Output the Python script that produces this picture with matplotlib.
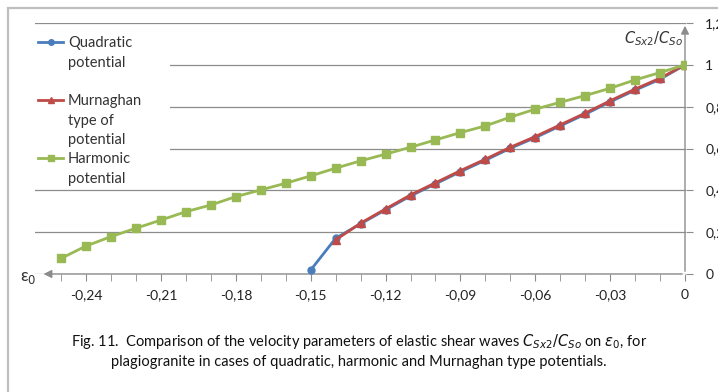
import matplotlib
matplotlib.use("Agg")
import matplotlib.pyplot as plt
from matplotlib.patches import Rectangle
from matplotlib.lines import Line2D

# --- data ---
eps_harm = [-0.25, -0.24, -0.23, -0.22, -0.21, -0.20, -0.19, -0.18, -0.17, -0.16,
            -0.15, -0.14, -0.13, -0.12, -0.11, -0.10, -0.09, -0.08, -0.07, -0.06,
            -0.05, -0.04, -0.03, -0.02, -0.01, 0.0]
harm = [0.075, 0.134, 0.179, 0.219, 0.258, 0.298, 0.330, 0.370, 0.402, 0.434,
        0.469, 0.506, 0.541, 0.573, 0.606, 0.641, 0.676, 0.708, 0.750, 0.788,
        0.821, 0.853, 0.888, 0.928, 0.963, 1.0]

eps_quad = [-0.15, -0.14, -0.13, -0.12, -0.11, -0.10, -0.09, -0.08, -0.07, -0.06,
            -0.05, -0.04, -0.03, -0.02, -0.01, 0.0]
quad = [0.019, 0.171, 0.240, 0.307, 0.373, 0.431, 0.489, 0.544, 0.601, 0.652,
        0.708, 0.764, 0.823, 0.879, 0.931, 1.0]

eps_murn = [-0.14, -0.13, -0.12, -0.11, -0.10, -0.09, -0.08, -0.07, -0.06,
            -0.05, -0.04, -0.03, -0.02, -0.01, 0.0]
murn = [0.163, 0.243, 0.311, 0.378, 0.436, 0.494, 0.549, 0.606, 0.657,
        0.713, 0.769, 0.828, 0.884, 0.936, 1.0]

xticks = [-0.24, -0.21, -0.18, -0.15, -0.12, -0.09, -0.06, -0.03, 0.0]
xticklabels = ["-0,24", "-0,21", "-0,18", "-0,15", "-0,12", "-0,09", "-0,06", "-0,03", "0"]
xminor = [-0.25, -0.23, -0.22, -0.20, -0.19, -0.17, -0.16, -0.14, -0.13,
          -0.11, -0.10, -0.08, -0.07, -0.05, -0.04, -0.02, -0.01]
yticks = [0, 0.2, 0.4, 0.6, 0.8, 1.0, 1.2]
yticklabels = ["0", "0,2", "0,4", "0,6", "0,8", "1", "1,2"]

names = ["Quadratic\npotential", "Murnaghan\ntype of\npotential", "Harmonic\npotential"]
colors = ["#4A7EBB", "#BE4B48", "#98B954"]
markers = ["o", "^", "s"]

plt.rcParams["font.family"] = ["Lato", "DejaVu Sans"]
plt.rcParams["mathtext.fontset"] = "dejavusans"

W, H = 718, 392
fig = plt.figure(figsize=(W / 100, H / 100), dpi=100)


def fx(x):
    return x / W


def fy(y):
    return 1 - y / H


# outer frame (cropped at right and bottom)
fig.patches.append(Rectangle((fx(8), -0.1), 1.2, fy(8) + 0.1, transform=fig.transFigure,
                             fill=False, ec="#BFBFBF", lw=1.6))

ax = fig.add_axes([fx(35), fy(274), 650.75 / W, 251 / H])
ax.set_xlim(-0.2605, 0.0003)
ax.set_ylim(0, 1.2)
for s in ax.spines.values():
    s.set_visible(False)

ax.set_yticks(yticks)
ax.set_yticklabels(yticklabels)
ax.yaxis.tick_right()
ax.yaxis.grid(True, color="#8C8C8C", lw=0.9)
ax.tick_params(axis="y", direction="out", length=5, color="#8C8C8C", pad=9,
               labelsize=10, labelcolor="#222222")

ax.set_xticks(xticks)
ax.set_xticklabels(xticklabels)
ax.set_xticks(xminor, minor=True)
ax.tick_params(axis="x", which="both", direction="out", length=5, color="#8C8C8C",
               pad=6, labelsize=10, labelcolor="#222222")

# axes with arrows
ax.annotate("", xy=(-0.2582, 0), xytext=(0, 0),
            arrowprops=dict(arrowstyle="-|>", color="#8C8C8C", lw=1.0, mutation_scale=12))
ax.annotate("", xy=(0, 1.2), xytext=(0, 0),
            arrowprops=dict(arrowstyle="-|>", color="#8C8C8C", lw=1.0, mutation_scale=12))

ax.plot(eps_quad, quad, color=colors[0], lw=2, marker=markers[0], ms=5, zorder=3)
ax.plot(eps_murn, murn, color=colors[1], lw=2, marker=markers[1], ms=6, zorder=4)
ax.plot(eps_harm, harm, color=colors[2], lw=2, marker=markers[2], ms=6, zorder=5)

# legend block drawn over the gridlines, like the original
fig.patches.append(Rectangle((fx(34), fy(186)), 136 / W, 158 / H, transform=fig.transFigure,
                             fc="white", ec="none", zorder=2))
leg_y = [42, 100, 158]
for name, c, m, y in zip(names, colors, markers, leg_y):
    fig.lines.append(Line2D([fx(38), fx(50.5), fx(63)], [fy(y)] * 3, transform=fig.transFigure,
                            color=c, lw=2, marker=m, ms=4, markevery=[1], zorder=3))
    fig.text(fx(68), fy(y - 6), name, ha="left", va="top", fontsize=10.5,
             color="#333333", linespacing=1.5, zorder=3)

fig.text(fx(683), fy(43), r"$C_{Sx2}/C_{So}$", ha="right", va="baseline",
         fontsize=10.5, color="#333333")
fig.text(fx(20), fy(281), r"ε$_0$", ha="left", va="baseline",
         fontsize=12, color="#333333")

fig.text(0.5, fy(346),
         "Fig. 11.  Comparison of the velocity parameters of elastic shear waves "
         r"$C_{Sx2}/C_{So}$" " on " r"$\varepsilon_0$" ", for",
         ha="center", va="baseline", fontsize=10.5, color="#111111")
fig.text(0.5, fy(366),
         "plagiogranite in cases of quadratic, harmonic and Murnaghan type potentials.",
         ha="center", va="baseline", fontsize=10.5, color="#111111")

fig.savefig("out.png", dpi=100)
